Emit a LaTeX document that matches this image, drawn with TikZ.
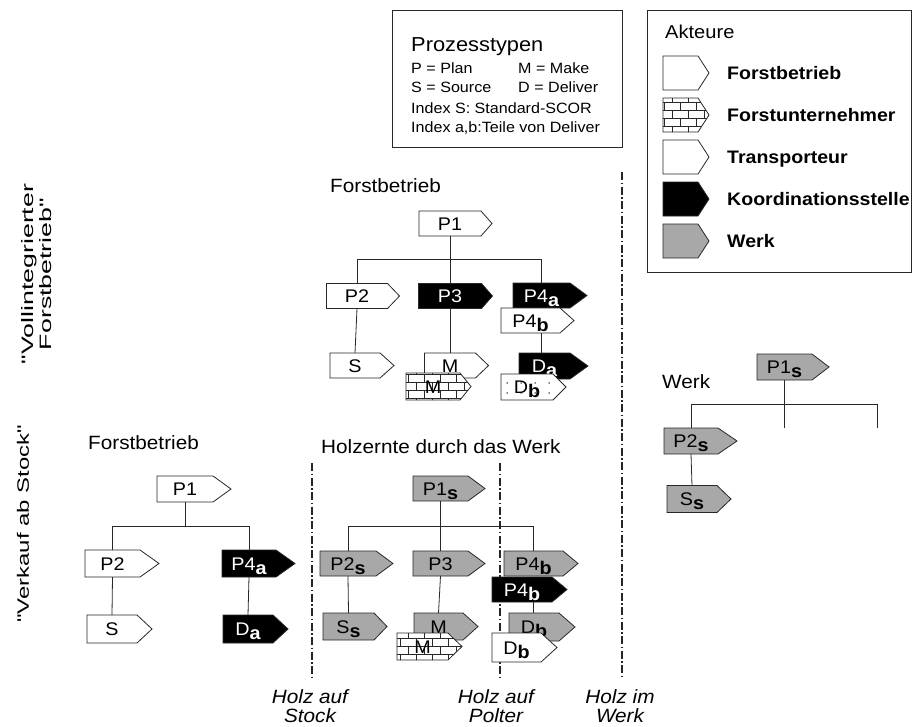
\documentclass[tikz,border=0pt]{standalone}
\usepackage{fontspec}
\setmainfont{Liberation Sans}[FakeStretch=1.08]
\newfontfamily\sidefont{Liberation Sans}[FakeStretch=1.45]
\newfontfamily\sidefontwide{Liberation Sans}[FakeStretch=1.62]
\usetikzlibrary{patterns}

% Process tag: a rectangle body with a pointed tip on its right side.
% All anchors refer to the body; the tip length is set with tiplen.
\makeatletter
\pgfkeys{/pgf/tiplen/.initial=12pt}
\pgfdeclareshape{tag}{%
  \inheritsavedanchors[from=rectangle]%
  \inheritanchorborder[from=rectangle]%
  \inheritanchor[from=rectangle]{center}%
  \inheritanchor[from=rectangle]{north}%
  \inheritanchor[from=rectangle]{south}%
  \inheritanchor[from=rectangle]{east}%
  \inheritanchor[from=rectangle]{west}%
  \inheritanchor[from=rectangle]{north east}%
  \inheritanchor[from=rectangle]{north west}%
  \inheritanchor[from=rectangle]{south east}%
  \inheritanchor[from=rectangle]{south west}%
  \backgroundpath{%
    \pgfmathsetlength\pgf@xc{\pgfkeysvalueof{/pgf/tiplen}}%
    \southwest \pgf@xa=\pgf@x \pgf@ya=\pgf@y
    \northeast \pgf@xb=\pgf@x \pgf@yb=\pgf@y
    \advance\pgf@xc by \pgf@xb
    \pgf@yc=\pgf@ya \advance\pgf@yc by \pgf@yb \divide\pgf@yc by 2
    \pgfpathmoveto{\pgfqpoint{\pgf@xa}{\pgf@ya}}%
    \pgfpathlineto{\pgfqpoint{\pgf@xb}{\pgf@ya}}%
    \pgfpathlineto{\pgfqpoint{\pgf@xc}{\pgf@yc}}%
    \pgfpathlineto{\pgfqpoint{\pgf@xb}{\pgf@yb}}%
    \pgfpathlineto{\pgfqpoint{\pgf@xa}{\pgf@yb}}%
    \pgfpathclose
  }%
}
\makeatother

% Brick wall fill for the contractor
\pgfdeclarepatternformonly{brickwall}{\pgfqpoint{-1pt}{-1pt}}{\pgfqpoint{17pt}{17pt}}{\pgfqpoint{16pt}{16pt}}{%
  \pgfsetlinewidth{0.7pt}%
  \pgfpathmoveto{\pgfqpoint{0pt}{0pt}}\pgfpathlineto{\pgfqpoint{16pt}{0pt}}%
  \pgfpathmoveto{\pgfqpoint{0pt}{8pt}}\pgfpathlineto{\pgfqpoint{16pt}{8pt}}%
  \pgfpathmoveto{\pgfqpoint{0pt}{0pt}}\pgfpathlineto{\pgfqpoint{0pt}{8pt}}%
  \pgfpathmoveto{\pgfqpoint{8pt}{8pt}}\pgfpathlineto{\pgfqpoint{8pt}{16pt}}%
  \pgfusepath{stroke}%
}
% Sparse dots for the shared deliver step
\pgfdeclarepatternformonly{sparsedots}{\pgfqpoint{-1pt}{-1pt}}{\pgfqpoint{15pt}{11pt}}{\pgfqpoint{14pt}{10pt}}{%
  \pgfpathcircle{\pgfqpoint{3pt}{3pt}}{0.75pt}\pgfusepath{fill}%
}

\definecolor{werkgray}{RGB}{168,168,168}
\definecolor{inkgray}{RGB}{40,40,40}

% index letters (a, b, S) set bold and lowered
\newcommand\ix[1]{\raisebox{-4pt}{\bfseries #1}}

\tikzset{
  tagbox/.style={shape=tag, draw=inkgray, line width=0.8pt, inner sep=0pt, outer sep=0pt,
    minimum height=25, font=\fontsize{18.3}{18}\selectfont, text height=13pt, text depth=0pt},
  wtag/.style={tagbox, fill=white},
  ktag/.style={tagbox, fill=black, text=white},
  gtag/.style={tagbox, fill=werkgray},
  btag/.style={tagbox, preaction={fill=white}, pattern=brickwall, pattern color=inkgray},
  dtag/.style={tagbox, preaction={fill=white}, pattern=sparsedots, pattern color=black},
  conn/.style={draw=inkgray, line width=0.8pt},
  cutline/.style={draw=black!85, line width=1.5pt, dash pattern=on 8pt off 2.5pt on 1.5pt off 2.5pt},
  frame/.style={draw=inkgray, line width=0.9pt},
  title/.style={anchor=base west, inner sep=0pt, font=\fontsize{19.2}{21}\selectfont},
  smalltxt/.style={anchor=base west, inner sep=0pt, font=\fontsize{14.9}{16}\selectfont},
  legendlbl/.style={anchor=base west, inner sep=0pt, font=\fontsize{18.1}{19}\selectfont\bfseries},
  cutlabel/.style={anchor=north, inner sep=0pt, align=center, font=\fontsize{19.2}{19}\selectfont\itshape},
  sidelabel/.style={rotate=90, inner sep=0pt, align=center},
  legtag/.style={minimum width=35, minimum height=34, tiplen=11},
}

\begin{document}
\begin{tikzpicture}[x=1pt, y=-1pt]
\useasboundingbox (0,0) rectangle (913,726);

% ---------- legend: process types ----------
\draw[frame] (392,10) rectangle (622,147);
\node[anchor=base west, inner sep=0pt, font=\fontsize{20.2}{21}\selectfont] (ptitle) at (411,51) {Prozesstypen};
\node[smalltxt] (pplan) at (411,73) {P = Plan};
\node[smalltxt] (pmake) at (518,73) {M = Make};
\node[smalltxt] (psource) at (411,92) {S = Source};
\node[smalltxt] (pdeliver) at (518,92) {D = Deliver};
\node[smalltxt] (pindexs) at (411,113) {Index S: Standard-SCOR};
\node[smalltxt] (pindexab) at (411,132) {Index a,b:Teile von Deliver};

% ---------- legend: actors ----------
\draw[frame] (647,10) rectangle (911,272);
\node[anchor=base west, inner sep=0pt, font=\fontsize{18.6}{19}\selectfont] (atitle) at (665,38) {Akteure};
\node[wtag, legtag] (lforst) at (680.5,73) {};
\node[btag, legtag] (lunter) at (680.5,115) {};
\node[wtag, legtag] (ltrans) at (680.5,157) {};
\node[ktag, legtag] (lkoord) at (680.5,199) {};
\node[gtag, legtag] (lwerk) at (680.5,241) {};
\node[legendlbl] (tforst) at (727,79) {Forstbetrieb};
\node[legendlbl] (tunter) at (727,121) {Forstunternehmer};
\node[legendlbl] (ttrans) at (727,163) {Transporteur};
\node[legendlbl] (tkoord) at (727,205) {Koordinationsstelle};
\node[legendlbl] (twerk) at (727,247) {Werk};

% ---------- row labels ----------
\node[sidelabel, font=\sidefontwide\fontsize{16.5}{18}\selectfont] (rowa) at (37,274) {"Vollintegrierter\\Forstbetrieb"};
\node[sidelabel, font=\sidefont\fontsize{16.5}{18}\selectfont] (rowb) at (23,524) {"Verkauf ab Stock"};

% ---------- ownership cuts ----------
\coordinate (cutstocktop) at (312,463);
\coordinate (cutstockbot) at (312,677);
\coordinate (cutpoltertop) at (500,463);
\coordinate (cutpolterbot) at (500,678);
\coordinate (cutwerktop) at (622,172);
\coordinate (cutwerkbot) at (622,678);
\draw[cutline] (cutstocktop) -- (cutstockbot);
\draw[cutline] (cutpoltertop) -- (cutpolterbot);
\draw[cutline] (cutwerktop) -- (cutwerkbot);
\node[cutlabel] (lstock) at (310,689) {Holz auf\\Stock};
\node[cutlabel] (lpolter) at (496,689) {Holz auf\\Polter};
\node[cutlabel] (lwerkcut) at (620,689) {Holz im\\Werk};

% ---------- integrated forest enterprise ----------
\node[title] (atree) at (330,192) {Forstbetrieb};
\coordinate (abus) at (0,259);
\node[wtag, minimum width=62, tiplen=11] (a1) at (450,223.5) {P1};
\node[wtag, minimum width=61, tiplen=12] (a2) at (357,296) {P2};
\node[ktag, minimum width=63, tiplen=11] (a3) at (450,296) {P3};
\node[ktag, minimum width=57, tiplen=17] (a4) at (541.5,295.5) {P4\ix{a}};
\node[wtag, minimum width=59, tiplen=14] (a5) at (530.5,320.5) {P4\ix{b}};
\draw[conn] (a1.south) -- (a3.north);
\draw[conn] (a2.north) |- (a4.north |- abus) -- (a4.north);
\node[wtag, minimum width=50, tiplen=14] (a6) at (355,365.5) {S};
\node[wtag, minimum width=51, tiplen=13] (a7) at (450,365.5) {M};
\node[btag, minimum width=54, minimum height=27, tiplen=11] (a8) at (433,386.5) {M};
\node[ktag, minimum width=51, minimum height=26, tiplen=18] (a9) at (544.5,366) {D\ix{a}};
\node[dtag, minimum width=52, minimum height=26, tiplen=13] (a10) at (527,387) {D\ix{b}};
\draw[conn] (a2.south) -- (a6.north);
\draw[conn] (a3.south) -- (a7.north);
\draw[conn] (a5.south -| a4.south) -- (a9.north -| a4.south);

% ---------- plant ----------
\node[title] (wtree) at (662,388) {Werk};
\coordinate (wbus) at (0,404);
\coordinate (wend1) at (784,428);
\coordinate (wend2) at (877,428);
\node[gtag, minimum width=55, minimum height=26, tiplen=17] (w1) at (784.5,367) {P1\ix{s}};
\node[gtag, minimum width=54, minimum height=26, tiplen=19] (w2) at (691,441) {P2\ix{s}};
\node[gtag, minimum width=50, minimum height=27, tiplen=14] (w3) at (692,499) {S\ix{s}};
\draw[conn] (w1.south -| wend1) -- (wend1);
\draw[conn] (w2.north) |- (wend2 |- wbus) -- (wend2);
\draw[conn] (w2.south) -- (w3.north);

% ---------- sale on the stump: forest enterprise ----------
\node[title] (btree) at (88,449) {Forstbetrieb};
\coordinate (bbus) at (0,526);
\node[wtag, minimum width=56, minimum height=26, tiplen=18] (b1) at (185,489) {P1};
\node[wtag, minimum width=55, minimum height=27, tiplen=19] (b2) at (112.5,563.5) {P2};
\node[wtag, minimum width=50, minimum height=28, tiplen=15] (b3) at (112,629) {S};
\node[ktag, minimum width=54, minimum height=27, tiplen=19] (b4) at (249,563.5) {P4\ix{a}};
\node[ktag, minimum width=50, minimum height=28, tiplen=15] (b5) at (248,629) {D\ix{a}};
\draw[conn] (b1.south) -- (b1.south |- bbus);
\draw[conn] (b2.north) |- (b4.north |- bbus) -- (b4.north);
\draw[conn] (b2.south) -- (b3.north);
\draw[conn] (b4.south) -- (b5.north);

% ---------- sale on the stump: harvesting by the plant ----------
\node[title] (mtree) at (321,453) {Holzernte durch das Werk};
\coordinate (mbus) at (0,526);
\node[gtag, minimum width=55, tiplen=17] (m1) at (440.5,488.5) {P1\ix{s}};
\node[gtag, minimum width=56, tiplen=17] (m2) at (348,563.5) {P2\ix{s}};
\node[gtag, minimum width=55, tiplen=17] (m3) at (440.5,563.5) {P3};
\node[gtag, minimum width=59, tiplen=15] (m4) at (533.5,563.5) {P4\ix{b}};
\node[ktag, minimum width=60, tiplen=15] (m5) at (522,589.5) {P4\ix{b}};
\draw[conn] (m1.south) -- (m3.north);
\draw[conn] (m2.north) |- (m4.north |- mbus) -- (m4.north);
\node[gtag, minimum width=51, minimum height=27, tiplen=13] (m6) at (348.5,626.5) {S\ix{s}};
\node[gtag, minimum width=49, minimum height=27, tiplen=15] (m7) at (438.5,626.5) {M};
\node[btag, minimum width=51, minimum height=27, tiplen=14] (m8) at (422.5,646.5) {M};
\node[gtag, minimum width=50, minimum height=28, tiplen=16] (m9) at (534,627) {D\ix{b}};
\node[wtag, minimum width=49, minimum height=29, tiplen=16] (m10) at (516.5,647.5) {D\ix{b}};
\draw[conn] (m2.south) -- (m6.north);
\draw[conn] (m3.south) -- (m7.north);
\draw[conn] (m5.south -| m4.south) -- (m9.north -| m4.south);
\end{tikzpicture}
\end{document}
